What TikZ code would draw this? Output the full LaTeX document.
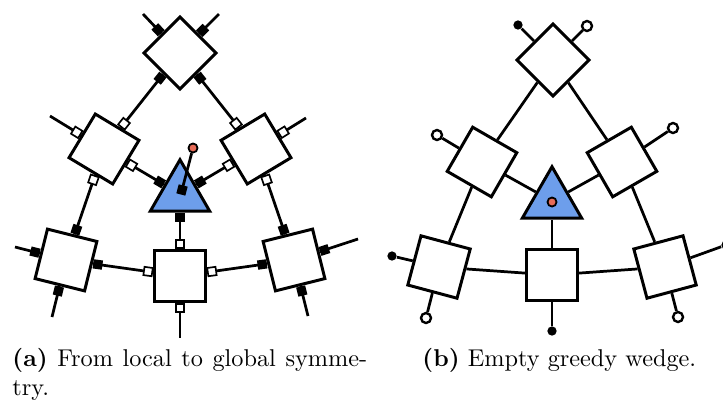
\documentclass[tikz,border=0pt]{standalone}
\usetikzlibrary{shapes.geometric,decorations.markings}
\definecolor{triblue}{RGB}{109,158,235}
\definecolor{dotred}{RGB}{232,108,88}
\tikzset{
  sq/.style={draw, line width=1.25pt, fill=white, shape=rectangle, minimum size=21.4pt, inner sep=0pt},
  tri/.style={draw, line width=1.25pt, fill=triblue, regular polygon, regular polygon sides=3, minimum size=28.8pt, inner sep=0pt},
  conn/.style={line width=1.15pt},
  bm/.style={fill=black, shape=rectangle, minimum size=3.9pt, inner sep=0pt, transform shape},
  wm/.style={draw, line width=0.7pt, fill=white, shape=rectangle, minimum size=3.5pt, inner sep=0pt, transform shape},
  ms/.style={postaction={decorate,decoration={markings,mark=at position 2.1pt with {\node[#1]{};}}}},
  me/.style={postaction={decorate,decoration={markings,mark=at position -2.1pt with {\node[#1]{};}}}},
  mzero/.style={postaction={decorate,decoration={markings,mark=at position 0.01pt with {\node[#1]{};}}}},
  rdot/.style={circle, draw, line width=0.75pt, fill=dotred, minimum size=3.8pt, inner sep=0pt},
  bdot/.style={circle, fill=black, minimum size=3.9pt, inner sep=0pt},
  wdot/.style={circle, draw, line width=1pt, fill=white, minimum size=4.2pt, inner sep=0pt},
  captext/.style={anchor=base west, inner sep=0pt, font=\fontsize{10.2}{12.2}\selectfont},
}
\begin{document}
\begin{tikzpicture}[x=0.42pt,y=-0.42pt]
\useasboundingbox (0,0) rectangle (723,403);
% ---------- (a) ----------
\node[sq, rotate=45] (Ta) at (180,53) {};
\node[sq, rotate=-31] (ULa) at (104,149) {};
\node[sq, rotate=31] (URa) at (256,149) {};
\node[sq, rotate=-14] (LLa) at (66,260) {};
\node[sq, rotate=14] (LRa) at (294,260) {};
\node[sq] (Ba) at (180,276) {};
\node[tri] (TRa) at (180,194) {};
\node[rdot] (Ra) at (193,148) {};
\coordinate (TRain) at (182,190);
\coordinate (Ta1) at (143,14);
\coordinate (Ta2) at (219,14);
\coordinate (ULa1) at (50,116);
\coordinate (URa1) at (306,118);
\coordinate (LLa1) at (15,247);
\coordinate (LLa2) at (52,317);
\coordinate (LRa1) at (358,239);
\coordinate (LRa2) at (308,316);
\coordinate (Ba1) at (180,338);
\draw[conn, ms=bm, me=wm] (Ta) -- (ULa);
\draw[conn, ms=bm, me=wm] (Ta) -- (URa);
\draw[conn, ms=wm, me=bm] (ULa) -- (LLa);
\draw[conn, ms=wm, me=bm] (URa) -- (LRa);
\draw[conn, ms=wm, me=bm] (ULa) -- (TRa);
\draw[conn, ms=wm, me=bm] (URa) -- (TRa);
\draw[conn, ms=bm, me=wm] (LLa) -- (Ba);
\draw[conn, ms=bm, me=wm] (LRa) -- (Ba);
\draw[conn, ms=wm, me=bm] (Ba) -- (TRa);
\draw[conn, mzero=bm] (TRain) -- (Ra);
\draw[conn, ms=bm] (Ta) -- (Ta1);
\draw[conn, ms=bm] (Ta) -- (Ta2);
\draw[conn, ms=wm] (ULa) -- (ULa1);
\draw[conn, ms=wm] (URa) -- (URa1);
\draw[conn, ms=bm] (LLa) -- (LLa1);
\draw[conn, ms=bm] (LLa) -- (LLa2);
\draw[conn, ms=bm] (LRa) -- (LRa1);
\draw[conn, ms=bm] (LRa) -- (LRa2);
\draw[conn, ms=wm] (Ba) -- (Ba1);
% ---------- (b) ----------
\node[sq, rotate=45] (Tb) at (553,60) {};
\node[sq, rotate=-30] (ULb) at (482,162) {};
\node[sq, rotate=30] (URb) at (622,162) {};
\node[sq, rotate=-15] (LLb) at (439,267) {};
\node[sq, rotate=15] (LRb) at (665,267) {};
\node[sq] (Bb) at (552,275) {};
\node[tri] (TRb) at (552,201) {};
\node[rdot] (Rb) at (552,202) {};
\node[bdot] (Tb1) at (518,25) {};
\node[wdot] (Tb2) at (587,26) {};
\node[wdot] (ULb1) at (437,135) {};
\node[wdot] (URb1) at (673,128) {};
\node[bdot] (LLb1) at (392,256) {};
\node[wdot] (LLb2) at (426,318) {};
\node[bdot] (LRb1) at (726,245) {};
\node[wdot] (LRb2) at (678,317) {};
\node[bdot] (Bb1) at (552,331) {};
\draw[conn] (Tb) -- (ULb);
\draw[conn] (Tb) -- (URb);
\draw[conn] (ULb) -- (LLb);
\draw[conn] (URb) -- (LRb);
\draw[conn] (ULb) -- (TRb);
\draw[conn] (URb) -- (TRb);
\draw[conn] (LLb) -- (Bb);
\draw[conn] (LRb) -- (Bb);
\draw[conn] (Bb) -- (TRb);
\draw[conn] (Tb) -- (Tb1);
\draw[conn] (Tb) -- (Tb2);
\draw[conn] (ULb) -- (ULb1);
\draw[conn] (URb) -- (URb1);
\draw[conn] (LLb) -- (LLb1);
\draw[conn] (LLb) -- (LLb2);
\draw[conn] (LRb) -- (LRb1);
\draw[conn] (LRb) -- (LRb2);
\draw[conn] (Bb) -- (Bb1);
% ---------- captions ----------
\node[captext] (capa1) at (12,366) {\makebox[149pt][s]{\textbf{(a)} From local to global symme-}};
\node[captext] (capa2) at (12,395) {try.};
\node[captext] (capb) at (422,366) {\textbf{(b)} Empty greedy wedge.};
\end{tikzpicture}
\end{document}
